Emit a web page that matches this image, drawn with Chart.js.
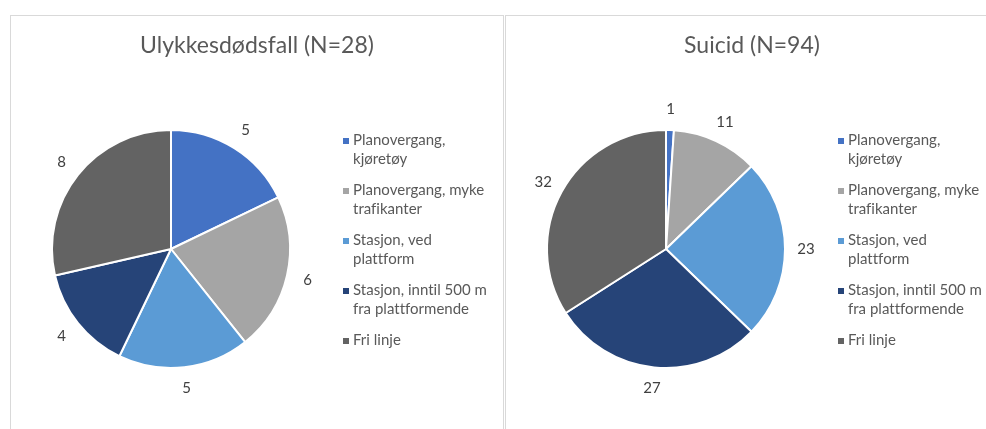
<!DOCTYPE html>
<html>
<head>
<meta charset="utf-8">
<script src="https://cdn.jsdelivr.net/npm/chart.js@4.4.0/dist/chart.umd.min.js"></script>
<style>
    html, body { margin: 0; padding: 0; background: #fff; overflow: hidden; width: 986px; height: 429px; }
    .panel { position: absolute; top: 15px; width: 494px; height: 420px; border: 1px solid #d9d9d9; box-sizing: border-box; }
    #p1 { left: 10px; }
    #p2 { left: 505px; }
    .panel canvas { display: block; }
</style>
</head>
<body>
<div class="panel" id="p1"><canvas id="c1" width="492" height="418"></canvas></div>
<div class="panel" id="p2"><canvas id="c2" width="492" height="418"></canvas></div>

<script>
// --- DATA ---
const categories = [
    ["Planovergang,", "kjøretøy"],
    ["Planovergang, myke", "trafikanter"],
    ["Stasjon, ved", "plattform"],
    ["Stasjon, inntil 500 m", "fra plattformende"],
    ["Fri linje"]
];
const accidentTitle = "Ulykkesdødsfall (N=28)";
const accidentValues = [5, 6, 5, 4, 8];
const suicideTitle = "Suicid (N=94)";
const suicideValues = [1, 11, 23, 27, 32];

const sliceColors = ["#4472C4", "#A5A5A5", "#5B9BD5", "#264478", "#636363"];
const FONT = "Lato, 'Open Sans', sans-serif";

// title, value labels and the two-line legend are drawn here
const panelText = {
    id: 'panelText',
    afterDraw(chart, args, opts) {
        const ctx = chart.ctx;
        ctx.save();
        // a tiny spacing keeps "fi" from turning into a ligature
        if ('letterSpacing' in ctx) ctx.letterSpacing = "0.01px";

        // title
        ctx.fillStyle = "#595959";
        ctx.font = "23px " + FONT;
        ctx.textAlign = "center";
        ctx.textBaseline = "middle";
        ctx.fillText(opts.title, chart.width / 2, 30);

        // value labels outside each slice
        const meta = chart.getDatasetMeta(0);
        const values = chart.data.datasets[0].data;
        ctx.fillStyle = "#404040";
        ctx.font = "15px " + FONT;
        meta.data.forEach((arc, i) => {
            const p = arc.getProps(['x', 'y', 'startAngle', 'endAngle', 'outerRadius'], true);
            const mid = (p.startAngle + p.endAngle) / 2;
            const r = p.outerRadius + 21;
            ctx.fillText(String(values[i]), p.x + Math.cos(mid) * r, p.y + Math.sin(mid) * r);
        });

        // legend
        ctx.textAlign = "left";
        ctx.font = "15px " + FONT;
        let y = 124;
        chart.data.labels.forEach((lines, i) => {
            ctx.fillStyle = sliceColors[i];
            ctx.fillRect(332, y - 2, 6, 6);
            ctx.fillStyle = "#595959";
            lines.forEach((line, j) => ctx.fillText(line, 342, y + j * 19));
            y += 50;
        });

        ctx.restore();
    }
};

function makePie(id, title, values) {
    return new Chart(document.getElementById(id), {
        type: 'pie',
        data: {
            labels: categories,
            datasets: [{
                data: values,
                backgroundColor: sliceColors,
                borderColor: "#ffffff",
                borderWidth: 2
            }]
        },
        options: {
            responsive: false,
            animation: false,
            layout: { padding: { left: 40, right: 212, top: 113, bottom: 65 } },
            plugins: {
                legend: { display: false },
                tooltip: { enabled: false },
                panelText: { title: title }
            }
        },
        plugins: [panelText]
    });
}

makePie('c1', accidentTitle, accidentValues);
makePie('c2', suicideTitle, suicideValues);
</script>
</body>
</html>
